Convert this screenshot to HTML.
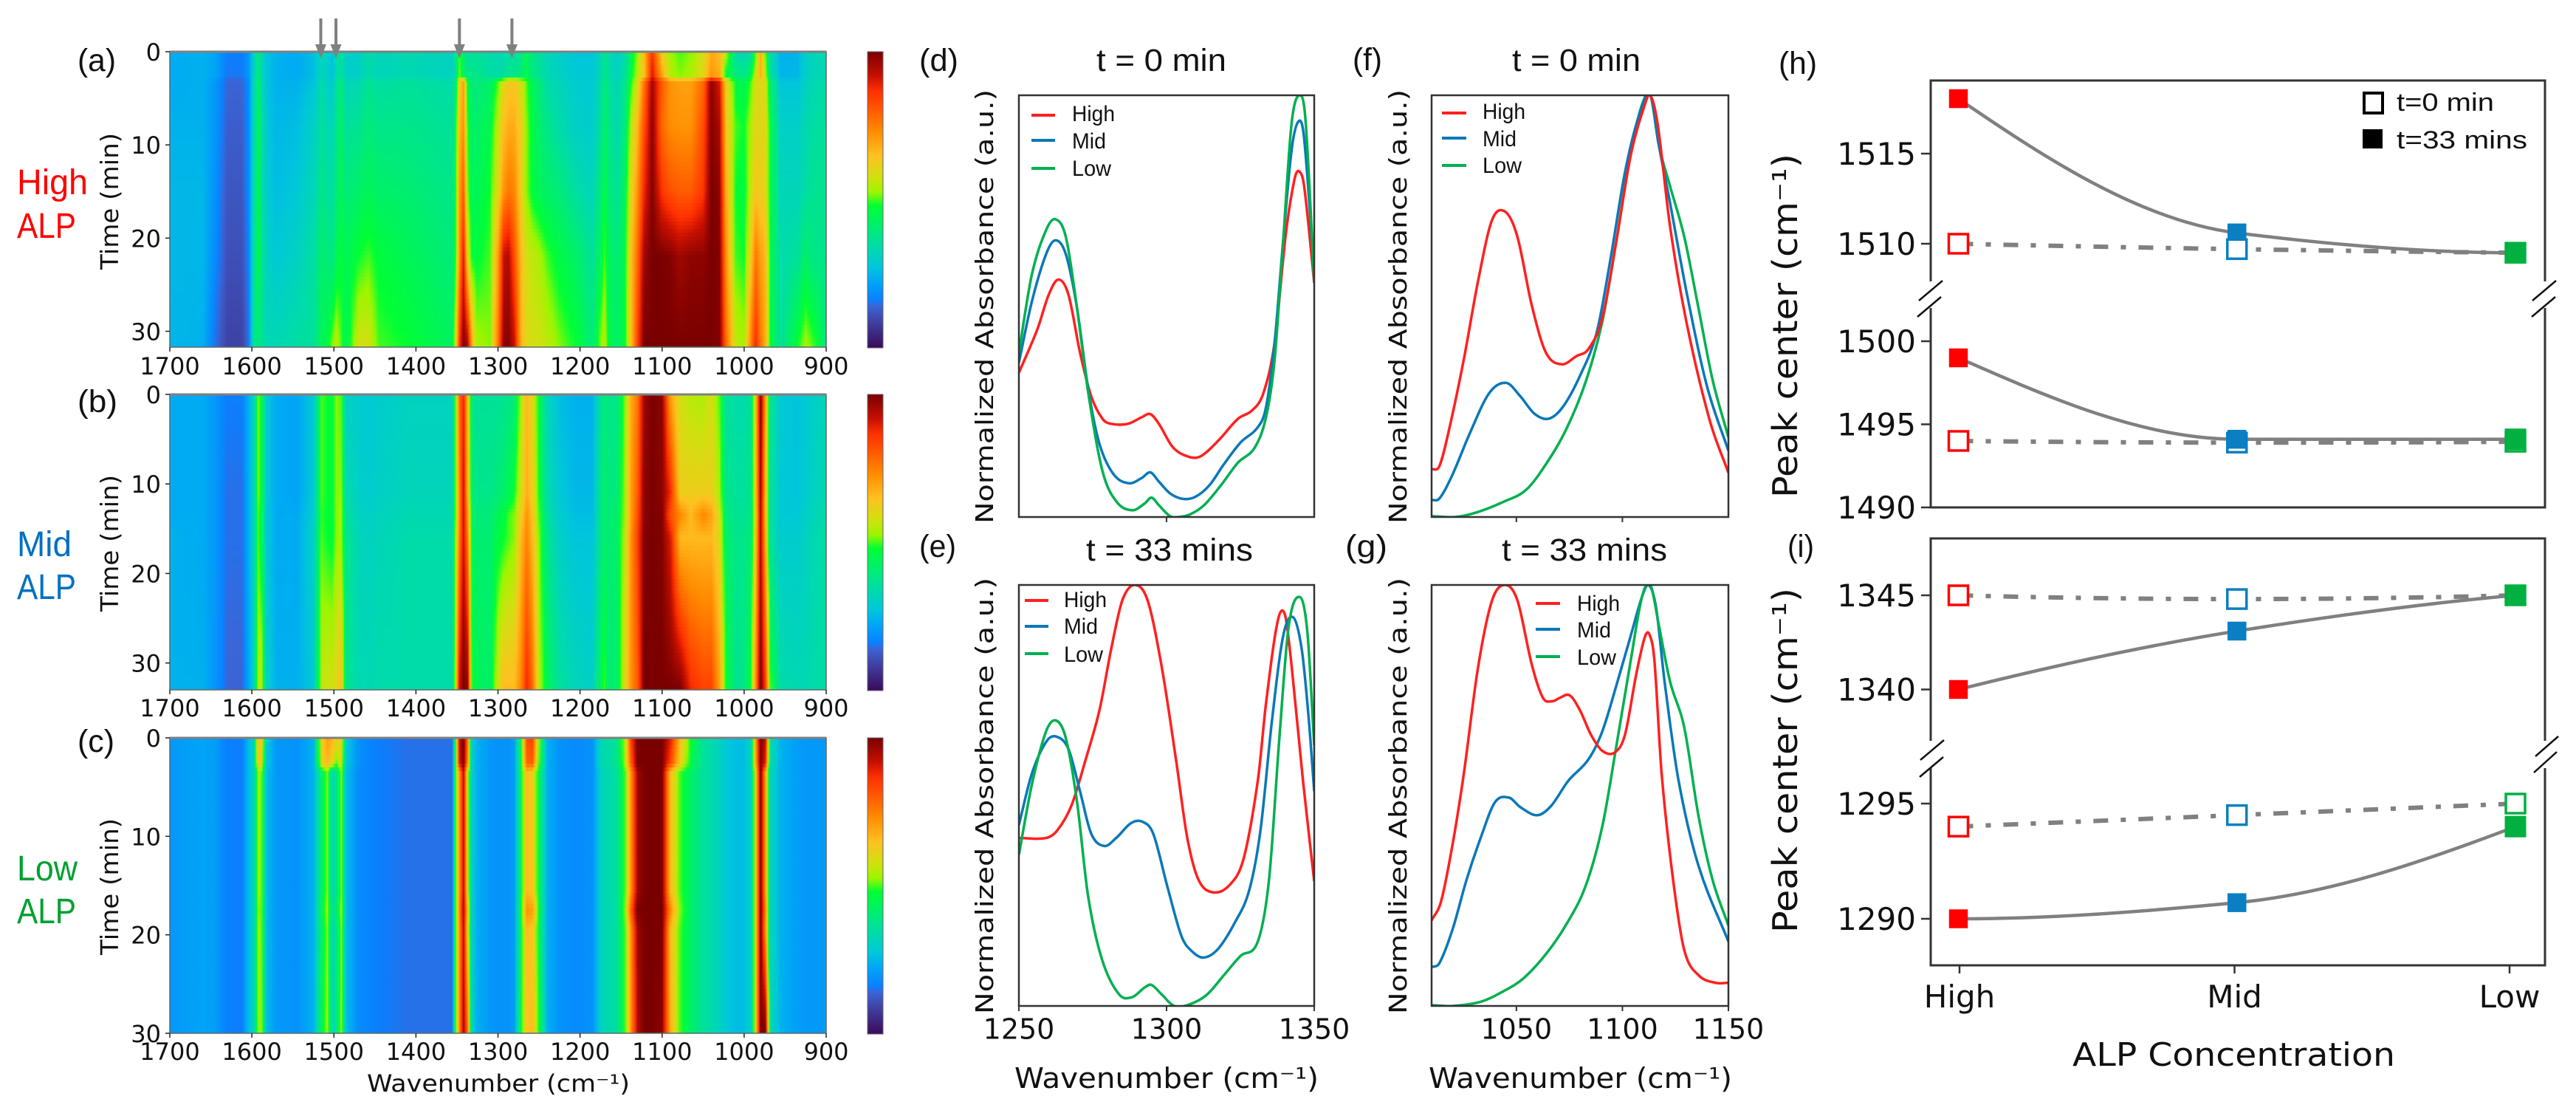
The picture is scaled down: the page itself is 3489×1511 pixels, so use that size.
<!DOCTYPE html>
<html lang="en">
<head>
<meta charset="utf-8">
<title>ALP time-resolved absorbance figure</title>
<style>
html,body{margin:0;padding:0;background:#fff;width:3489px;height:1511px;overflow:hidden}
svg{display:block}
text{fill:#111}
.dj{font-family:"DejaVu Sans","Liberation Sans",sans-serif}
.lib{font-family:"Liberation Sans","DejaVu Sans",sans-serif}
</style>
</head>
<body>
<svg id="figure" xmlns="http://www.w3.org/2000/svg" width="3489" height="1511" viewBox="0 0 3489 1511">
<defs id="defs"></defs>
<rect x="0" y="0" width="3489" height="1511" fill="#fff"/>
<g id="heat-a"></g>
<g id="heat-b"></g>
<g id="heat-c"></g>
<g id="spec-d"></g>
<g id="spec-e"></g>
<g id="spec-f"></g>
<g id="spec-g"></g>
<g id="peak-h"></g>
<g id="peak-i"></g>

<!-- panel letters -->
<g class="lib" font-size="43">
<text x="105" y="96" textLength="52" lengthAdjust="spacingAndGlyphs">(a)</text>
<text x="105" y="558" textLength="54" lengthAdjust="spacingAndGlyphs">(b)</text>
<text x="105" y="1018" textLength="50" lengthAdjust="spacingAndGlyphs">(c)</text>
<text x="1245" y="96" textLength="53" lengthAdjust="spacingAndGlyphs">(d)</text>
<text x="1245" y="754" textLength="50" lengthAdjust="spacingAndGlyphs">(e)</text>
<text x="1832" y="95" textLength="40" lengthAdjust="spacingAndGlyphs">(f)</text>
<text x="1822" y="754" textLength="57" lengthAdjust="spacingAndGlyphs">(g)</text>
<text x="2409" y="100" textLength="52" lengthAdjust="spacingAndGlyphs">(h)</text>
<text x="2421" y="754" textLength="36" lengthAdjust="spacingAndGlyphs">(i)</text>
</g>

<!-- concentration side labels -->
<g class="lib" font-size="48">
<text x="23" y="263" textLength="96" lengthAdjust="spacingAndGlyphs" style="fill:#ff0000">High</text>
<text x="23" y="322" textLength="80" lengthAdjust="spacingAndGlyphs" style="fill:#ff0000">ALP</text>
<text x="23" y="753" textLength="74" lengthAdjust="spacingAndGlyphs" style="fill:#0070c0">Mid</text>
<text x="23" y="811" textLength="80" lengthAdjust="spacingAndGlyphs" style="fill:#0070c0">ALP</text>
<text x="23" y="1192" textLength="82" lengthAdjust="spacingAndGlyphs" style="fill:#00a030">Low</text>
<text x="23" y="1250" textLength="80" lengthAdjust="spacingAndGlyphs" style="fill:#00a030">ALP</text>
</g>

<!-- heatmap axis titles -->
<g class="dj" font-size="33">
<text transform="translate(160,365) rotate(-90)" textLength="185" lengthAdjust="spacingAndGlyphs">Time (min)</text>
<text transform="translate(160,828) rotate(-90)" textLength="185" lengthAdjust="spacingAndGlyphs">Time (min)</text>
<text transform="translate(160,1293) rotate(-90)" textLength="185" lengthAdjust="spacingAndGlyphs">Time (min)</text>
<text x="497" y="1478" font-size="32" textLength="356" lengthAdjust="spacingAndGlyphs">Wavenumber (cm⁻¹)</text>
</g>

<!-- spectra titles -->
<g class="lib" font-size="43">
<text x="1485" y="96" textLength="176" lengthAdjust="spacingAndGlyphs">t = 0 min</text>
<text x="1471" y="759" textLength="226" lengthAdjust="spacingAndGlyphs">t = 33 mins</text>
<text x="2048" y="96" textLength="174" lengthAdjust="spacingAndGlyphs">t = 0 min</text>
<text x="2034" y="759" textLength="224" lengthAdjust="spacingAndGlyphs">t = 33 mins</text>
</g>

<!-- spectra axis titles -->
<g class="dj" font-size="33">
<text transform="translate(1345,709) rotate(-90)" textLength="588" lengthAdjust="spacingAndGlyphs">Normalized Absorbance (a.u.)</text>
<text transform="translate(1345,1373) rotate(-90)" textLength="591" lengthAdjust="spacingAndGlyphs">Normalized Absorbance (a.u.)</text>
<text transform="translate(1905,709) rotate(-90)" textLength="588" lengthAdjust="spacingAndGlyphs">Normalized Absorbance (a.u.)</text>
<text transform="translate(1905,1373) rotate(-90)" textLength="591" lengthAdjust="spacingAndGlyphs">Normalized Absorbance (a.u.)</text>
<text x="1374" y="1473" font-size="38" textLength="412" lengthAdjust="spacingAndGlyphs">Wavenumber (cm⁻¹)</text>
<text x="1935" y="1473" font-size="38" textLength="411" lengthAdjust="spacingAndGlyphs">Wavenumber (cm⁻¹)</text>
</g>

<!-- spectra legends -->
<g class="lib" font-size="30">
<line x1="1397" x2="1429" y1="156" y2="156" stroke="#ff2020" stroke-width="4"/>
<line x1="1397" x2="1429" y1="190" y2="190" stroke="#0a78b8" stroke-width="4"/>
<line x1="1397" x2="1429" y1="228" y2="228" stroke="#00b050" stroke-width="4"/>
<text x="1452" y="164" textLength="58" lengthAdjust="spacingAndGlyphs">High</text>
<text x="1452" y="201" textLength="46" lengthAdjust="spacingAndGlyphs">Mid</text>
<text x="1452" y="238" textLength="53" lengthAdjust="spacingAndGlyphs">Low</text>
</g>
<g class="lib" font-size="30">
<line x1="1953" x2="1986" y1="153" y2="153" stroke="#ff2020" stroke-width="4"/>
<line x1="1953" x2="1986" y1="187" y2="187" stroke="#0a78b8" stroke-width="4"/>
<line x1="1953" x2="1986" y1="224" y2="224" stroke="#00b050" stroke-width="4"/>
<text x="2008" y="161" textLength="58" lengthAdjust="spacingAndGlyphs">High</text>
<text x="2008" y="198" textLength="46" lengthAdjust="spacingAndGlyphs">Mid</text>
<text x="2008" y="234" textLength="53" lengthAdjust="spacingAndGlyphs">Low</text>
</g>
<g class="lib" font-size="30">
<line x1="1388" x2="1420" y1="813" y2="813" stroke="#ff2020" stroke-width="4"/>
<line x1="1388" x2="1420" y1="848" y2="848" stroke="#0a78b8" stroke-width="4"/>
<line x1="1388" x2="1420" y1="885" y2="885" stroke="#00b050" stroke-width="4"/>
<text x="1441" y="822" textLength="58" lengthAdjust="spacingAndGlyphs">High</text>
<text x="1441" y="858" textLength="46" lengthAdjust="spacingAndGlyphs">Mid</text>
<text x="1441" y="896" textLength="53" lengthAdjust="spacingAndGlyphs">Low</text>
</g>
<g class="lib" font-size="30">
<line x1="2080" x2="2113" y1="817" y2="817" stroke="#ff2020" stroke-width="4"/>
<line x1="2080" x2="2113" y1="852" y2="852" stroke="#0a78b8" stroke-width="4"/>
<line x1="2080" x2="2113" y1="889" y2="889" stroke="#00b050" stroke-width="4"/>
<text x="2136" y="827" textLength="58" lengthAdjust="spacingAndGlyphs">High</text>
<text x="2136" y="863" textLength="46" lengthAdjust="spacingAndGlyphs">Mid</text>
<text x="2136" y="900" textLength="53" lengthAdjust="spacingAndGlyphs">Low</text>
</g>

<!-- peak centre titles and legend -->
<g class="dj" font-size="46">
<text transform="translate(2434,674) rotate(-90)" textLength="466" lengthAdjust="spacingAndGlyphs">Peak center (cm⁻¹)</text>
<text transform="translate(2434,1263) rotate(-90)" textLength="467" lengthAdjust="spacingAndGlyphs">Peak center (cm⁻¹)</text>
<text x="2807" y="1443" font-size="44" textLength="437" lengthAdjust="spacingAndGlyphs">ALP Concentration</text>
</g>
<g class="lib" font-size="34">
<rect x="3202" y="126" width="25" height="27" fill="#fff" stroke="#000" stroke-width="4"/>
<rect x="3200" y="175" width="27" height="26" fill="#000"/>
<text x="3246" y="150" textLength="132" lengthAdjust="spacingAndGlyphs">t=0 min</text>
<text x="3246" y="201" textLength="177" lengthAdjust="spacingAndGlyphs">t=33 mins</text>
</g>
<g id="overlay"></g>
</svg>

<script>
/* ---------- heatmap data (value 0-100 on the colour bar) ---------- */
const wavenumbers = [
 1700,1660,1645,1630,1612,1604,1598,1592,1588,1582,
 1570,1545,1525,1515,1508,1502,1497,1491,1485,1470,
 1458,1445,1410,1356,1352,1347,1342,1337,1332,1326,
 1310,1300,1293,1287,1280,1272,1265,1258,1250,1240,
 1225,1205,1185,1175,1170,1165,1155,1145,1138,1130,
 1122,1112,1100,1090,1078,1065,1050,1040,1030,1022,
 1010,1000,992,986,980,974,968,955,935,925,
 915,900];
const heatTicksX = [1700,1600,1500,1400,1300,1200,1100,1000,900];
const heatTicksY = [0,10,20,30];
const arrowWavenumbers = [1516,1497.5,1347,1283];

const timesA = [0,2.6,3.2,8,15,22,31.7];
const heatA = [
[23,24,22,16,16,20,30,40,33,27, 24,23,26,32,30,26,34,36,30,30, 34,32,33,31,35,50,40,36,36,36, 34,33,33,35,35,38,44,38,36,32, 30,27,27,33,38,34,30,34,44,52, 66,86,62,53,50,52,58,68,66,55, 34,32,34,50,68,50,34,24,24,30, 32,33],
[23,24,22,15.5,15.5,20,30,40,33,27, 24,23,26,32,30,26,34,36,30,30, 34,32,33,31,35,52,44,38,38,38, 35,34,35,38,38,40,45,39,37,33, 31,28,28,33,38,35,31,36,46,55, 64,90,70,55,52,54,60,72,68,46, 40,38,46,56,68,56,36,25,25,30, 32,33],
[23,24,20,14,14,18,32,42,34,27, 24,24,27,34,30,28,36,40,32,33, 37,35,36,34,40,62,70,46,40,39, 42,50,60,63,63,58,50,44,40,34, 32,29,28,34,40,36,32,38,48,58, 76,96,80,72,70,70,78,98,90,62, 46,44,50,58,60,58,42,27,27,31, 33,34],
[24,24,20,13,13,18,32,44,36,28, 25,26,30,36,33,32,38,42,36,37, 40,38,38,36,44,66,72,50,42,42, 45,56,65,68,68,62,52,46,42,38, 34,30,29,36,42,38,33,40,55,66, 82,98,78,73,72,72,82,99,95,64, 50,48,54,60,60,60,46,30,30,33, 35,36],
[25,25,19,12,12,18,33,45,36,29, 26,28,32,38,36,35,40,44,40,42, 44,42,41,38,46,70,80,52,44,44, 48,60,72,76,74,62,52,47,44,42, 40,35,32,40,46,40,36,44,60,72, 88,99,86,82,80,80,86,100,98,68, 48,46,56,64,62,60,46,32,32,35, 37,37],
[25,25,18,11,11,17,34,46,38,31, 28,31,35,41,40,38,44,47,44,48, 50,47,44,40,48,72,90,60,48,47, 50,70,92,94,82,66,58,56,54,50, 46,42,36,44,50,44,40,46,64,78, 96,100,100,99,96,98,98,100,99,72, 50,48,62,76,70,66,46,34,36,42, 38,38],
[25,24,15,9,9,15,36,40,36,33, 33,35,36,44,46,52,56,50,44,58, 58,50,48,43,56,86,99,96,70,54, 52,76,98,99,92,68,60,58,58,56, 52,48,40,52,56,46,42,48,64,84, 100,100,100,100,100,100,100,100,99,78, 56,54,74,88,76,68,46,36,48,54, 50,40]
];

const timesB = [0,11,13.5,16,33];
const heatB = [
[23,23,20,16,16,24,30,52,46,28, 23,22,28,50,48,47,52,50,30,29, 28,29,31,31,50,78,88,66,40,36, 36,36,37,38,40,54,66,60,46,32, 26,24,24,36,40,38,38,52,68,76, 96,100,98,70,58,55,54,58,50,36, 34,34,36,62,100,70,38,28,27,28, 30,32],
[23,23,20,15,15,24,30,52,46,28, 23,22,28,50,48,47,52,52,34,30, 29,30,32,32,50,74,92,68,42,38, 38,40,42,44,48,58,68,62,48,34, 28,25,25,38,42,39,40,54,70,80, 98,100,98,88,62,62,62,62,54,38, 36,36,38,62,98,66,36,28,27,29, 31,33],
[23,23,20,15,15,24,30,50,44,28, 23,23,29,49,48,47,52,53,36,31, 30,31,33,33,50,74,92,72,44,40, 40,44,46,50,52,62,72,64,50,36, 29,26,26,38,42,40,42,54,70,82, 98,100,99,82,74,66,74,70,58,40, 37,37,38,60,96,66,36,28,28,30, 32,34],
[24,23,20,15,15,24,30,50,44,28, 23,23,30,50,48,47,52,53,38,32, 31,32,34,34,52,76,92,76,46,41, 41,46,48,50,52,66,74,66,52,38, 30,27,27,38,42,40,42,56,72,84, 99,100,99,90,66,66,66,66,60,42, 38,38,40,62,96,68,36,29,29,31, 33,35],
[24,24,20,14,14,22,30,56,56,30, 24,24,28,56,58,58,60,66,38,33, 33,34,34,34,56,92,100,98,50,44, 42,58,66,66,66,74,88,78,56,44, 36,32,30,44,50,40,42,60,72,80, 100,100,100,100,100,88,84,84,70,48, 37,38,48,72,100,85,50,34,33,33, 34,35]
];

const timesC = [0,2.6,3.5,15.5,17.5,19.5,30];
const heatC = [
[20,22,21,16,16,26,30,66,62,28, 20,19,24,62,70,68,62,62,28,19, 17,16,15,15,46,92,100,78,30,24, 20,19,19,19,21,46,82,84,52,24, 19,18,19,32,34,34,38,56,84,100, 100,100,100,90,66,48,36,34,31,28, 26,26,32,70,100,92,34,24,21,20, 20,20],
[20,22,21,16,16,26,30,64,60,28, 20,19,24,60,66,60,50,60,28,19, 17,16,15,15,46,90,100,74,30,24, 20,19,19,19,21,46,78,80,50,24, 19,18,19,32,34,34,38,54,80,100, 100,100,100,84,62,46,36,34,31,28, 26,26,32,68,100,88,34,24,21,20, 20,20],
[20,22,21,16,16,26,30,54,50,26, 20,19,24,42,52,32,38,52,26,18, 17,16,15,15,46,72,94,58,30,24, 20,19,19,19,21,44,66,62,44,24, 19,18,19,30,33,33,36,50,72,96, 100,100,100,66,50,42,36,34,31,28, 26,26,30,60,100,70,32,24,21,20, 20,20],
[20,22,21,16,16,26,30,54,50,26, 20,19,24,42,52,32,38,52,26,18, 17,16,15,15,46,72,94,60,30,24, 20,19,19,19,21,44,66,64,44,24, 19,18,19,30,33,33,36,50,72,96, 100,100,100,66,50,42,36,34,31,28, 26,26,30,60,100,70,32,24,21,20, 20,20],
[20,22,21,16,16,26,30,52,50,26, 20,19,24,44,54,36,40,54,26,18, 17,16,15,15,46,74,96,66,30,24, 20,19,19,19,21,46,72,70,46,24, 19,18,19,30,33,33,36,52,80,100, 100,100,100,74,52,42,36,34,31,28, 26,26,30,60,100,74,32,24,21,20, 20,20],
[20,22,21,16,16,26,30,54,50,26, 20,19,24,42,52,32,38,52,26,18, 17,16,15,15,46,72,94,62,30,24, 20,19,19,19,21,44,66,64,44,24, 19,18,19,30,33,33,36,50,72,96, 100,100,100,66,50,42,36,34,31,28, 26,26,30,60,100,72,32,24,21,20, 20,20],
[20,22,21,16,16,26,30,52,52,26, 20,19,24,44,54,32,38,54,26,18, 17,16,15,15,46,74,96,78,32,24, 20,19,19,19,21,46,64,66,48,24, 19,18,19,30,33,33,36,50,72,94, 100,100,98,68,50,42,36,34,31,28, 26,26,30,60,100,100,34,24,21,20, 20,20]
];

/* ---------- spectra data: wavenumber (cm-1) and normalised absorbance ---------- */
const wnDHigh = [1250,1256.3,1260.1,1263.4,1266.8,1270.7,1274.5,1278.3,1281.2,1286.9,1291.7,1294.5,1297.4,1302.2,1307.9,1311.8,1317.5,1324.2,1329,1332.8,1336.6,1340.4,1343.3,1344.8,1346.6,1350];
const absDHigh = [.342,.446,.527,.563,.527,.39,.286,.233,.221,.221,.237,.244,.221,.165,.142,.145,.181,.233,.253,.294,.414,.672,.80,.82,.784,.555];
const wnDMid = [1250,1254.4,1259.2,1262.4,1265.9,1269.7,1273.5,1277.3,1282.1,1287.3,1291.7,1294.5,1297.4,1301.2,1305.6,1309.8,1314.6,1319.4,1325.1,1330.9,1333.7,1336.6,1339.5,1342.4,1344.8,1346.6,1350];
const absDMid = [.366,.511,.623,.656,.623,.495,.302,.173,.101,.080,.093,.106,.084,.056,.043,.048,.076,.125,.177,.213,.261,.414,.656,.873,.939,.897,.583];
const wnDLow = [1250,1254.4,1259.2,1262.4,1265.9,1269.7,1273.5,1278.3,1283.1,1288.4,1292.6,1294.9,1297.4,1301.2,1304.1,1307.9,1312.7,1318.5,1324.2,1329.9,1333.7,1336.6,1339.5,1342.4,1345.2,1347.1,1350];
const absDLow = [.39,.575,.68,.706,.664,.495,.294,.109,.036,.016,.032,.046,.028,.002,0,.006,.028,.076,.129,.165,.237,.374,.656,.937,1,.937,.559];

const wnEHigh = [1250,1259.2,1263,1267.8,1272.6,1277.3,1281.2,1285,1289.2,1293.6,1298.4,1303.2,1307,1310.8,1315.6,1321.3,1326.1,1330.9,1333.7,1337.6,1340.1,1342.4,1346.2,1350];
const absEHigh = [.399,.399,.417,.476,.585,.703,.846,.963,1,.963,.804,.585,.40,.30,.27,.287,.35,.535,.72,.913,.929,.804,.535,.296];
const wnEMid = [1250,1254.4,1259.2,1262.6,1266.8,1270.7,1274.5,1278.9,1283.1,1287.9,1291.7,1295.5,1300.3,1305.1,1308.9,1312.7,1317.5,1323.2,1328,1331.8,1335.7,1339.5,1342.9,1345.8,1348.1,1350];
const absEMid = [.43,.552,.627,.64,.61,.51,.409,.38,.40,.434,.438,.409,.283,.165,.128,.115,.136,.199,.275,.417,.678,.879,.923,.846,.686,.51];
const wnELow = [1250,1254.4,1259.2,1262.6,1265.9,1269.7,1273.5,1278.3,1284,1288.4,1292.6,1294.9,1298.4,1302.6,1307.9,1313.7,1319.4,1325.1,1330.9,1334.7,1338.2,1341.4,1345.2,1347.7,1350];
const absELow = [.359,.526,.652,.678,.636,.484,.258,.107,.027,.021,.044,.05,.027,0,.004,.027,.073,.119,.153,.30,.636,.904,.971,.887,.619];

const wnFHigh = [1010,1013.7,1018.5,1025.2,1031.9,1038.5,1044.7,1050.5,1057.2,1063.9,1071.3,1078.5,1083.9,1090.5,1097.2,1103.9,1110.5,1113.2,1116.7,1122.5,1130.5,1141.2,1150];
const absFHigh = [.113,.121,.213,.374,.559,.704,.724,.664,.503,.39,.362,.382,.398,.471,.656,.857,.977,1,.929,.688,.455,.229,.105];
const wnFMid = [1010,1013.7,1019.9,1027.9,1037.2,1045.2,1051.9,1058.5,1065.2,1071.9,1079.9,1087.9,1094.5,1101.2,1107.9,1113.2,1117.2,1122.5,1130.5,1139.9,1150];
const absFMid = [.04,.044,.101,.197,.294,.318,.286,.245,.233,.261,.334,.438,.615,.817,.953,1,.881,.744,.527,.31,.157];
const wnFLow = [1010,1021.2,1031.9,1043.9,1054.5,1063.9,1073.2,1082.5,1090.5,1097.2,1103.9,1109.2,1113.2,1117.2,1122.5,1129.2,1135.9,1142.5,1150];
const absFLow = [.002,0,.012,.036,.064,.125,.205,.318,.463,.656,.865,.977,1,.881,.784,.664,.495,.326,.189];

const wnGHigh = [1010,1014.5,1019.9,1025.2,1031.9,1038.5,1044.7,1050.5,1057.2,1062.5,1067.1,1070.5,1075.1,1079.9,1085.2,1090.5,1096.4,1101.2,1106.5,1110.5,1112.7,1115.1,1118.5,1123.9,1129.2,1135.9,1143.9,1150];
const absGHigh = [.203,.249,.384,.552,.804,.963,1,.963,.812,.732,.724,.732,.738,.703,.644,.606,.602,.644,.787,.875,.883,.82,.552,.30,.132,.073,.055,.055];
const wnGMid = [1010,1013.7,1019.9,1026.5,1033.2,1039.9,1046.5,1051.9,1059.9,1066.5,1074.5,1083.9,1090.5,1097.2,1103.9,1109.2,1112.4,1115.9,1119.9,1126.5,1135.9,1150];
const absGMid = [.092,.102,.182,.30,.40,.484,.495,.472,.453,.476,.535,.585,.652,.762,.879,.971,1,.946,.77,.535,.333,.153];
const wnGLow = [1010,1019.9,1033.2,1043.9,1053.2,1063.9,1073.2,1082.5,1090.5,1097.2,1103.9,1109.2,1113.2,1117.2,1122.5,1129.2,1135.9,1142.5,1150];
const absGLow = [.002,0,.01,.035,.065,.123,.191,.283,.426,.619,.82,.971,1,.904,.77,.661,.451,.30,.191];

const specTicksD = [1300];
const specTicksF = [1050,1100];
const specTicksE = [1250,1300,1350];
const specTicksG = [1050,1100,1150];

/* ---------- peak centre data ---------- */
const concentrations = ['High','Mid','Low'];
const peak1510T33 = [1518.05,1510.6,1509.5];
const peak1510T0 = [1510,1509.7,1509.5];
const peak1495T33 = [1499.0,1494.1,1494.1];
const peak1495T0 = [1494,1493.9,1493.95];
const peak1345T33 = [1340,1343.1,1345];
const peak1345T0 = [1345,1344.8,1345];
const peak1290T33 = [1290,1290.7,1294];
const peak1290T0 = [1294,1294.5,1295];
const ticksH1 = [1510,1515];
const ticksH2 = [1490,1495,1500];
const ticksI1 = [1340,1345];
const ticksI2 = [1290,1295];

/* ---------- helpers ---------- */
const NS = 'http://www.w3.org/2000/svg';
function make(tag, attrs, parent){
  const n = document.createElementNS(NS, tag);
  for (const k in attrs) n.setAttribute(k, attrs[k]);
  parent.appendChild(n);
  return n;
}
const paletteAt = [0,8.5,14.3,16,22.6,27.6,34.3,41,48,52.6,57.6,65,73.4,81.7,86.7,91.7,100];
const paletteRGB = [[58,10,90],[63,63,159],[58,102,216],[10,127,255],[0,168,245],[0,200,216],[0,220,168],[0,238,112],[0,255,51],[157,245,0],[208,224,16],[255,192,32],[255,138,0],[255,80,0],[255,48,0],[200,16,0],[122,0,0]];
function colormap(v){
  v = Math.max(0, Math.min(100, v));
  let i = 0;
  while (i < paletteAt.length - 2 && v > paletteAt[i + 1]) i++;
  const f = (v - paletteAt[i]) / (paletteAt[i + 1] - paletteAt[i]);
  const a = paletteRGB[i], b = paletteRGB[i + 1];
  return 'rgb(' + Math.round(a[0] + (b[0] - a[0]) * f) + ',' + Math.round(a[1] + (b[1] - a[1]) * f) + ',' + Math.round(a[2] + (b[2] - a[2]) * f) + ')';
}
function hermitePath(xs, ys, m){
  const n = xs.length;
  let p = 'M' + xs[0].toFixed(2) + ' ' + ys[0].toFixed(2);
  for (let i = 0; i < n - 1; i++){
    const h = xs[i + 1] - xs[i];
    p += 'C' + (xs[i] + h / 3).toFixed(2) + ' ' + (ys[i] + m[i] * h / 3).toFixed(2) + ' ' +
         (xs[i + 1] - h / 3).toFixed(2) + ' ' + (ys[i + 1] - m[i + 1] * h / 3).toFixed(2) + ' ' +
         xs[i + 1].toFixed(2) + ' ' + ys[i + 1].toFixed(2);
  }
  return p;
}
function pchipPath(xs, ys){
  const n = xs.length, h = [], d = [], m = [];
  for (let i = 0; i < n - 1; i++){ h[i] = xs[i + 1] - xs[i]; d[i] = (ys[i + 1] - ys[i]) / h[i]; }
  function endSlope(h0, h1, d0, d1){
    let s = ((2 * h0 + h1) * d0 - h0 * d1) / (h0 + h1);
    if (s * d0 <= 0) s = 0;
    else if (d0 * d1 <= 0 && Math.abs(s) > 3 * Math.abs(d0)) s = 3 * d0;
    return s;
  }
  m[0] = endSlope(h[0], h[1], d[0], d[1]);
  m[n - 1] = endSlope(h[n - 2], h[n - 3], d[n - 2], d[n - 3]);
  for (let i = 1; i < n - 1; i++){
    if (d[i - 1] * d[i] <= 0) m[i] = 0;
    else {
      const w1 = 2 * h[i] + h[i - 1], w2 = h[i] + 2 * h[i - 1];
      m[i] = (w1 + w2) / (w1 / d[i - 1] + w2 / d[i]);
    }
  }
  return hermitePath(xs, ys, m);
}
function smoothPath(xs, ys){
  const n = xs.length, m = [];
  m[0] = (ys[1] - ys[0]) / (xs[1] - xs[0]);
  m[n - 1] = (ys[n - 1] - ys[n - 2]) / (xs[n - 1] - xs[n - 2]);
  for (let i = 1; i < n - 1; i++) m[i] = (ys[i + 1] - ys[i - 1]) / (xs[i + 1] - xs[i - 1]);
  return hermitePath(xs, ys, m);
}

/* ---------- heatmaps ---------- */
const heatLeft = 230, heatRight = 1119;
const heatX = w => heatLeft + (1700 - w) * (heatRight - heatLeft) / 800;
const defsEl = document.getElementById('defs');
function drawHeat(id, times, rows, top, bottom, tMax, barBottom, xLabelY){
  const g = document.getElementById('heat-' + id);
  const yScale = t => top + t * (bottom - top) / tMax;
  const tFromY = y => (y - top) * tMax / (bottom - top);
  const step = 5;
  let gradHtml = '', idx = 0;
  const subdiv = 3;
  for (let y = top; y < bottom; y += step){
    const t = Math.min(tMax, tFromY(y + step / 2));
    let s = 0;
    while (s < times.length - 2 && t > times[s + 1]) s++;
    const f = Math.max(0, Math.min(1, (t - times[s]) / (times[s + 1] - times[s])));
    const vals = wavenumbers.map((w, k) => rows[s][k] + (rows[s + 1][k] - rows[s][k]) * f);
    const gid = 'hg' + id + idx;
    let stops = '';
    for (let k = 0; k < wavenumbers.length - 1; k++){
      for (let q = 0; q < subdiv; q++){
        const u = q / subdiv;
        const w = wavenumbers[k] + (wavenumbers[k + 1] - wavenumbers[k]) * u;
        const v = vals[k] + (vals[k + 1] - vals[k]) * u;
        const off = (heatX(w) - heatLeft) / (heatRight - heatLeft);
        stops += '<stop offset="' + off.toFixed(4) + '" stop-color="' + colormap(v) + '"/>';
      }
    }
    stops += '<stop offset="1" stop-color="' + colormap(vals[vals.length - 1]) + '"/>';
    gradHtml += '<linearGradient id="' + gid + '" gradientUnits="userSpaceOnUse" x1="' + heatLeft + '" x2="' + heatRight + '" y1="0" y2="0">' + stops + '</linearGradient>';
    const cell = make('rect', {x: heatLeft, y: y, width: heatRight - heatLeft, height: Math.min(step + 0.6, bottom - y), fill: 'url(#' + gid + ')'}, g);
    
    
    idx++;
  }
  defsEl.insertAdjacentHTML('beforeend', gradHtml);

  const frame = make('rect', {x: heatLeft, y: top, width: heatRight - heatLeft, height: bottom - top, fill: 'none', stroke: '#5a6a6a', 'stroke-width': 1.5}, g);
  
  
  const topEdge = make('line', {x1: heatLeft, x2: heatRight, y1: top, y2: top, stroke: '#808080', 'stroke-width': 3}, g);
  
  

  heatTicksX.forEach(v => {
    const tick = make('line', {x1: heatX(v), x2: heatX(v), y1: bottom, y2: bottom + 6, stroke: '#222', 'stroke-width': 1.5}, g);
    
    
    const lab = make('text', {x: heatX(v), y: xLabelY, 'text-anchor': 'middle', 'class': 'dj', 'font-size': 32}, g);
    
    
    lab.textContent = v;
  });
  heatTicksY.forEach(v => {
    const tick = make('line', {x1: heatLeft - 6, x2: heatLeft, y1: yScale(v), y2: yScale(v), stroke: '#222', 'stroke-width': 1.5}, g);
    
    
    const lab = make('text', {x: 218, y: yScale(v) + 12, 'text-anchor': 'end', 'class': 'dj', 'font-size': 32}, g);
    
    
    lab.textContent = v;
  });

  /* colour bar */
  const gradId = 'cbar' + id;
  let barStops = '';
  paletteAt.forEach(p => { barStops += '<stop offset="' + (p / 100) + '" stop-color="' + colormap(p) + '"/>'; });
  defsEl.insertAdjacentHTML('beforeend', '<linearGradient id="' + gradId + '" x1="0" x2="0" y1="1" y2="0">' + barStops + '</linearGradient>');
  const bar = make('rect', {x: 1175, y: top, width: 21, height: barBottom - top, fill: 'url(#' + gradId + ')', stroke: '#667', 'stroke-width': 1}, g);
  
  
}
drawHeat('a', timesA, heatA, 70, 470, 31.7, 471, 507);
drawHeat('b', timesB, heatB, 534, 934, 33, 935, 970);
drawHeat('c', timesC, heatC, 999, 1399, 30, 1400, 1435);

const overlay = document.getElementById('overlay');
arrowWavenumbers.forEach(w => {
  const x = heatX(w);
  const shaft = make('line', {x1: x, x2: x, y1: 25, y2: 62, stroke: '#808080', 'stroke-width': 4}, overlay);
  
  
  const head = make('polygon', {points: (x - 7.5) + ',60 ' + (x + 7.5) + ',60 ' + x + ',79', fill: '#808080'}, overlay);
  
  
});

/* ---------- spectra ---------- */
const specColors = {high: '#ff2020', mid: '#0a78b8', low: '#00b050'};
function drawSpectra(id, box, xMin, xMax, series, ticks, showLabels){
  const g = document.getElementById('spec-' + id);
  const x = w => box.l + (w - xMin) * (box.r - box.l) / (xMax - xMin);
  const y = a => box.b - a * (box.b - box.t);
  defsEl.insertAdjacentHTML('beforeend', '<clipPath id="clip' + id + '"><rect x="' + box.l + '" y="' + box.t + '" width="' + (box.r - box.l) + '" height="' + (box.b - box.t) + '"/></clipPath>');
  series.forEach(s => {
    const line = make('path', {d: smoothPath(s.xs.map(x), s.ys.map(y)), fill: 'none', stroke: s.color, 'stroke-width': 3.5, 'clip-path': 'url(#clip' + id + ')'}, g);
    
    
  });
  const frame = make('rect', {x: box.l, y: box.t, width: box.r - box.l, height: box.b - box.t, fill: 'none', stroke: '#333', 'stroke-width': 2.5}, g);
  
  
  ticks.forEach(v => {
    const tick = make('line', {x1: x(v), x2: x(v), y1: box.b, y2: box.b + 7, stroke: '#333', 'stroke-width': 2}, g);
    
    
    if (showLabels){
      const lab = make('text', {x: x(v), y: box.b + 44.5, 'text-anchor': 'middle', 'class': 'dj', 'font-size': 38}, g);
      
      
      lab.textContent = v;
    }
  });
}
const boxD = {l: 1380, r: 1780, t: 129, b: 700};
const boxE = {l: 1380, r: 1780, t: 792, b: 1362};
const boxF = {l: 1939, r: 2341, t: 129, b: 700};
const boxG = {l: 1939, r: 2341, t: 792, b: 1362};
drawSpectra('d', boxD, 1250, 1350, [
  {name: 'high', xs: wnDHigh, ys: absDHigh, color: specColors.high},
  {name: 'mid', xs: wnDMid, ys: absDMid, color: specColors.mid},
  {name: 'low', xs: wnDLow, ys: absDLow, color: specColors.low}], specTicksD, false);
drawSpectra('e', boxE, 1250, 1350, [
  {name: 'high', xs: wnEHigh, ys: absEHigh, color: specColors.high},
  {name: 'mid', xs: wnEMid, ys: absEMid, color: specColors.mid},
  {name: 'low', xs: wnELow, ys: absELow, color: specColors.low}], specTicksE, true);
drawSpectra('f', boxF, 1010, 1150, [
  {name: 'low', xs: wnFLow, ys: absFLow, color: specColors.low},
  {name: 'mid', xs: wnFMid, ys: absFMid, color: specColors.mid},
  {name: 'high', xs: wnFHigh, ys: absFHigh, color: specColors.high}], specTicksF, false);
drawSpectra('g', boxG, 1010, 1150, [
  {name: 'mid', xs: wnGMid, ys: absGMid, color: specColors.mid},
  {name: 'low', xs: wnGLow, ys: absGLow, color: specColors.low},
  {name: 'high', xs: wnGHigh, ys: absGHigh, color: specColors.high}], specTicksG, true);

/* ---------- peak centre panels ---------- */
const catX = i => 2652.5 + 377.25 * i;
const catTickX = i => 2654 + 372.5 * i;
const catColors = ['#ff0000', '#0a7fc2', '#00b140'];
const y1510 = v => 330 - (v - 1510) * 24.4;
const y1495 = v => 462 - (v - 1500) * 22.5;
const y1345 = v => 806 - (v - 1345) * 25.5;
const y1290 = v => 1088 - (v - 1295) * 31.2;

function drawFrame(g, top, bottom, gapTop, gapBottom){
  const l = 2615, r = 3447;
  const path = make('path', {d: 'M' + l + ' ' + gapTop + 'V' + top + 'H' + r + 'V' + gapTop + 'M' + l + ' ' + gapBottom + 'V' + bottom + 'H' + r + 'V' + gapBottom, fill: 'none', stroke: '#333', 'stroke-width': 3}, g);
  
  
}
function drawBreak(g, x1, x2, y1, y2){
  const m = make('line', {x1: x1, x2: x2, y1: y1, y2: y2, stroke: '#111', 'stroke-width': 2.5}, g);
  
  
}
function drawYTicks(g, ticks, yScale){
  ticks.forEach(v => {
    const tick = make('line', {x1: 2602, x2: 2615, y1: yScale(v), y2: yScale(v), stroke: '#333', 'stroke-width': 2.5}, g);
    
    
    const lab = make('text', {x: 2595, y: yScale(v) + 15, 'text-anchor': 'end', 'class': 'dj', 'font-size': 42}, g);
    
    
    lab.textContent = v;
  });
}
function drawPeakBand(g, yScale, filled, hollow, midHollowOnTop){
  const xs = concentrations.map((c, i) => catX(i));
  const dash = make('path', {d: pchipPath(xs, hollow.map(yScale)), fill: 'none', stroke: '#808080', 'stroke-width': 6, 'stroke-dasharray': '20 17 7 17'}, g);
  
  
  const solid = make('path', {d: pchipPath(xs, filled.map(yScale)), fill: 'none', stroke: '#808080', 'stroke-width': 4.5}, g);
  
  
  function hollowMark(i){
    const v = hollow[i];
    const m = make('rect', {x: catX(i) - 13, y: yScale(v) - 13, width: 26, height: 26, fill: '#fff', stroke: catColors[i], 'stroke-width': 3.5}, g);
    
    
  }
  function filledMark(i){
    const v = filled[i];
    const s = i === 2 ? 29 : 25.5;
    const m = make('rect', {x: catX(i) - s / 2, y: yScale(v) - s / 2, width: s, height: s, fill: catColors[i]}, g);
    
    
  }
  concentrations.forEach((c, i) => {
    if (midHollowOnTop && i === 1){ filledMark(i); hollowMark(i); }
    else { hollowMark(i); filledMark(i); }
  });
}

const gh = document.getElementById('peak-h');
drawFrame(gh, 109, 687, 381, 417);
drawYTicks(gh, ticksH1, y1510);
drawYTicks(gh, ticksH2, y1495);
drawPeakBand(gh, y1510, peak1510T33, peak1510T0, true);
drawPeakBand(gh, y1495, peak1495T33, peak1495T0, false);
drawBreak(gh, 2599, 2631, 407, 380);
drawBreak(gh, 2597, 2629, 429, 402);
drawBreak(gh, 3430, 3462, 407, 380);
drawBreak(gh, 3429, 3461, 429, 402);

const gi = document.getElementById('peak-i');
drawFrame(gi, 729, 1307, 1003, 1040);
drawYTicks(gi, ticksI1, y1345);
drawYTicks(gi, ticksI2, y1290);
drawPeakBand(gi, y1345, peak1345T33, peak1345T0, false);
drawPeakBand(gi, y1290, peak1290T33, peak1290T0, false);
drawBreak(gi, 2601, 2633, 1029, 1002);
drawBreak(gi, 2600, 2632, 1052, 1025);
drawBreak(gi, 3434, 3465, 1024, 997);
drawBreak(gi, 3432, 3463, 1046, 1018);
concentrations.forEach((c, i) => {
  const tick = make('line', {x1: catTickX(i), x2: catTickX(i), y1: 1307, y2: 1318, stroke: '#333', 'stroke-width': 2.5}, gi);
  
  
  const lab = make('text', {x: catTickX(i), y: 1364, 'text-anchor': 'middle', 'class': 'dj', 'font-size': 42}, gi);
  
  
  lab.textContent = c;
});
</script>
</body>
</html>
